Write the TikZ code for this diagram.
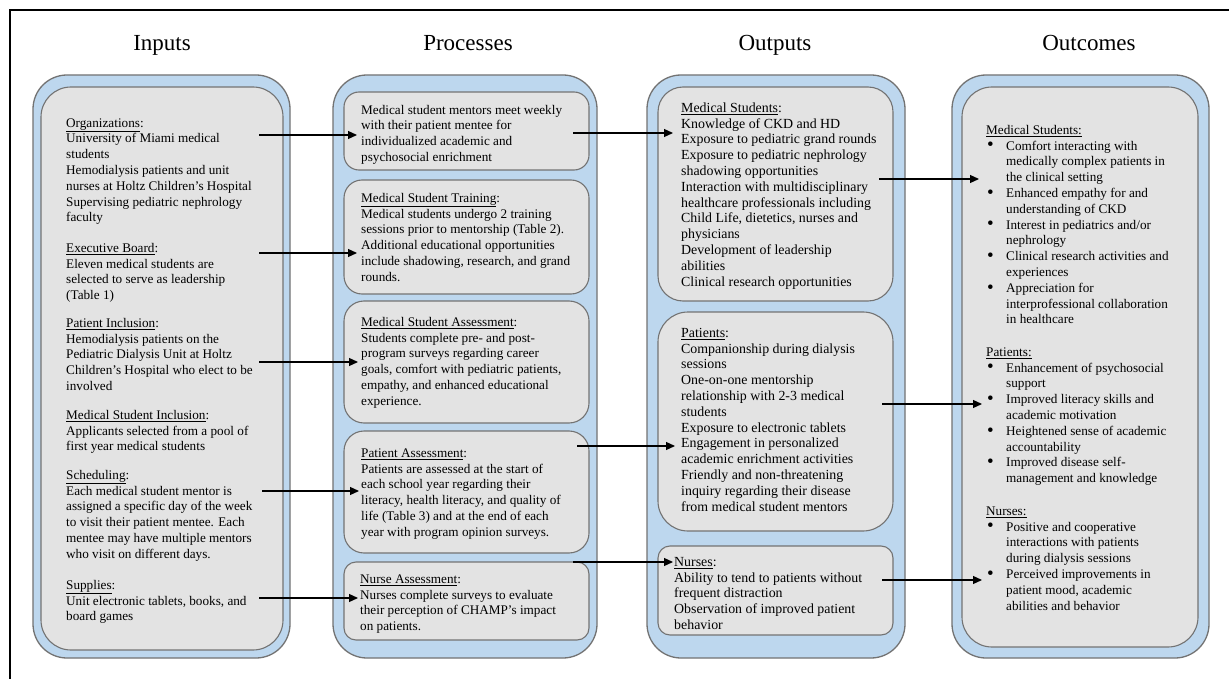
\documentclass[tikz,border=0pt]{standalone}
\usepackage{fontspec}
\setmainfont{Liberation Serif}
\usetikzlibrary{arrows.meta,fit}
\definecolor{colblue}{RGB}{189,215,238}
\definecolor{boxgray}{RGB}{227,227,227}
\definecolor{edgegray}{RGB}{115,115,115}
\newcommand\fl{\rule{0pt}{11pt}}
\newcommand\bitem{\hspace*{1pt}\makebox[19pt][l]{\raisebox{-0.8pt}{\fontsize{19}{19}\selectfont\textbullet}}}
\newcommand\bcont{\hspace*{20pt}}
\tikzset{
 colbox/.style={draw=edgegray, line width=1.3pt, fill=colblue, rounded corners=34pt, inner sep=0pt},
 innerbox/.style={draw=edgegray, line width=1.1pt, fill=boxgray, inner sep=0pt},
 txt/.style={anchor=north west, align=left, inner sep=0pt, font=\fontsize{13.2}{15.8}\selectfont},
 txtwide/.style={txt, font=\fontsize{13.9}{15.8}\selectfont},
 hdr/.style={font=\fontsize{23}{27}\selectfont, inner sep=0pt, anchor=base},
 link/.style={line width=1.2pt, -{Triangle[length=9pt,width=8pt]}},
 frameline/.style={line width=2.5pt, black},
}
\begin{document}
\begin{tikzpicture}[x=1pt,y=-1pt]
\useasboundingbox (0,0) rectangle (1229,679);
\fill[white] (0,0) rectangle (1229,679);
\draw[frameline] (10,679) -- (10,10) -- (1229,10);

% headers
\node[hdr] (hin) at (162,51) {Inputs};
\node[hdr] (hpr) at (468,51) {Processes};
\node[hdr] (hou) at (775,51) {Outputs};
\node[hdr] (hoc) at (1089,51) {Outcomes};

% columns
\node[colbox, fit={(33,75) (290,658)}] (cin) {};
\node[colbox, fit={(333,75) (597,658)}] (cpr) {};
\node[colbox, fit={(647,75) (905,658)}] (cou) {};
\node[colbox, fit={(952,75) (1209,658)}] (coc) {};

% inner boxes
\node[innerbox, rounded corners=30pt, fit={(41,87) (283,650)}] (bin) {};
\node[innerbox, rounded corners=15pt, fit={(344,92) (589,170)}] (p1) {};
\node[innerbox, rounded corners=18pt, fit={(344,180) (589,294)}] (p2) {};
\node[innerbox, rounded corners=20pt, fit={(344,301) (589,423)}] (p3) {};
\node[innerbox, rounded corners=20pt, fit={(344,431) (589,553)}] (p4) {};
\node[innerbox, rounded corners=12pt, fit={(344,562) (589,640)}] (p5) {};
\node[innerbox, rounded corners=25pt, fit={(658,87) (893,301)}] (o1) {};
\node[innerbox, rounded corners=30pt, fit={(658,312) (893,531)}] (o2) {};
\node[innerbox, rounded corners=12pt, fit={(658,546) (893,635)}] (o3) {};
\node[innerbox, rounded corners=30pt, fit={(962,87) (1198,647)}] (boc) {};

% Inputs text
\node[txt] (iorg) at (66,116) {\fl\underline{Organizations}:\\
University of Miami medical\\
students\\
Hemodialysis patients and unit\\
nurses at Holtz Children's Hospital\\
Supervising pediatric nephrology\\
faculty};
\node[txt] (iexe) at (66,241) {\fl\underline{Executive Board}:\\
Eleven medical students are\\
selected to serve as leadership\\
(Table 1)};
\node[txt] (ipat) at (66,316) {\fl\underline{Patient Inclusion}:\\
Hemodialysis patients on the\\
Pediatric Dialysis Unit at Holtz\\
Children's Hospital who elect to be\\
involved};
\node[txt] (imsi) at (66,408) {\fl\underline{Medical Student Inclusion}:\\
Applicants selected from a pool of\\
first year medical students};
\node[txt] (isch) at (66,468) {\fl\underline{Scheduling}:\\
Each medical student mentor is\\
assigned a specific day of the week\\
to visit their patient mentee. Each\\
mentee may have multiple mentors\\
who visit on different days.};
\node[txt] (isup) at (66,578) {\fl\underline{Supplies}:\\
Unit electronic tablets, books, and\\
board games};

% Processes text
\node[txt] (tp1) at (361,103) {\fl Medical student mentors meet weekly\\
with their patient mentee for\\
individualized academic and\\
psychosocial enrichment};
\node[txt] (tp2) at (361,191) {\fl\underline{Medical Student Training}:\\
Medical students undergo 2 training\\
sessions prior to mentorship (Table 2).\\
Additional educational opportunities\\
include shadowing, research, and grand\\
rounds.};
\node[txt] (tp3) at (361,315) {\fl\underline{Medical Student Assessment}:\\
Students complete pre- and post-\\
program surveys regarding career\\
goals, comfort with pediatric patients,\\
empathy, and enhanced educational\\
experience.};
\node[txt] (tp4) at (361,446) {\fl\underline{Patient Assessment}:\\
Patients are assessed at the start of\\
each school year regarding their\\
literacy, health literacy, and quality of\\
life (Table 3) and at the end of each\\
year with program opinion surveys.};
\node[txt] (tp5) at (360,572) {\fl\underline{Nurse Assessment}:\\
Nurses complete surveys to evaluate\\
their perception of CHAMP's impact\\
on patients.};

% Outputs text
\node[txtwide] (to1) at (681,101) {\fl\underline{Medical Students}:\\
Knowledge of CKD and HD\\
Exposure to pediatric grand rounds\\
Exposure to pediatric nephrology\\
shadowing opportunities\\
Interaction with multidisciplinary\\
healthcare professionals including\\
Child Life, dietetics, nurses and\\
physicians\\
Development of leadership\\
abilities\\
Clinical research opportunities};
\node[txtwide] (to2) at (681,326) {\fl\underline{Patients}:\\
Companionship during dialysis\\
sessions\\
One-on-one mentorship\\
relationship with 2-3 medical\\
students\\
Exposure to electronic tablets\\
Engagement in personalized\\
academic enrichment activities\\
Friendly and non-threatening\\
inquiry regarding their disease\\
from medical student mentors};
\node[txtwide] (to3) at (674,555) {\fl\underline{Nurses}:\\
Ability to tend to patients without\\
frequent distraction\\
Observation of improved patient\\
behavior};

% Outcomes text
\node[txt] (tc1) at (986,123) {\fl\underline{Medical Students:}\\
\bitem Comfort interacting with\\
\bcont medically complex patients in\\
\bcont the clinical setting\\
\bitem Enhanced empathy for and\\
\bcont understanding of CKD\\
\bitem Interest in pediatrics and/or\\
\bcont nephrology\\
\bitem Clinical research activities and\\
\bcont experiences\\
\bitem Appreciation for\\
\bcont interprofessional collaboration\\
\bcont in healthcare};
\node[txt] (tc2) at (986,345) {\fl\underline{Patients:}\\
\bitem Enhancement of psychosocial\\
\bcont support\\
\bitem Improved literacy skills and\\
\bcont academic motivation\\
\bitem Heightened sense of academic\\
\bcont accountability\\
\bitem Improved disease self-\\
\bcont management and knowledge};
\node[txt] (tc3) at (986,504) {\fl\underline{Nurses:}\\
\bitem Positive and cooperative\\
\bcont interactions with patients\\
\bcont during dialysis sessions\\
\bitem Perceived improvements in\\
\bcont patient mood, academic\\
\bcont abilities and behavior};

% connector end points
\coordinate (a1s) at (259,135); \coordinate (a1e) at (357,135);
\coordinate (a2s) at (259,253); \coordinate (a2e) at (357,253);
\coordinate (a3s) at (259,362); \coordinate (a3e) at (358,362);
\coordinate (a4s) at (262,491); \coordinate (a4e) at (359,491);
\coordinate (a5s) at (259,598); \coordinate (a5e) at (358,598);
\coordinate (a6s) at (573,133); \coordinate (a6e) at (673,133);
\coordinate (a7s) at (577,446); \coordinate (a7e) at (675,446);
\coordinate (a8s) at (573,562); \coordinate (a8e) at (673,562);
\coordinate (a9s) at (879,179); \coordinate (a9e) at (979,179);
\coordinate (a10s) at (882,404); \coordinate (a10e) at (982,404);
\coordinate (a11s) at (882,580); \coordinate (a11e) at (982,580);

\draw[link] (a1s) -- (a1e);
\draw[link] (a2s) -- (a2e);
\draw[link] (a3s) -- (a3e);
\draw[link] (a4s) -- (a4e);
\draw[link] (a5s) -- (a5e);
\draw[link] (a6s) -- (a6e);
\draw[link] (a7s) -- (a7e);
\draw[link] (a8s) -- (a8e);
\draw[link] (a9s) -- (a9e);
\draw[link] (a10s) -- (a10e);
\draw[link] (a11s) -- (a11e);
\end{tikzpicture}
\end{document}
